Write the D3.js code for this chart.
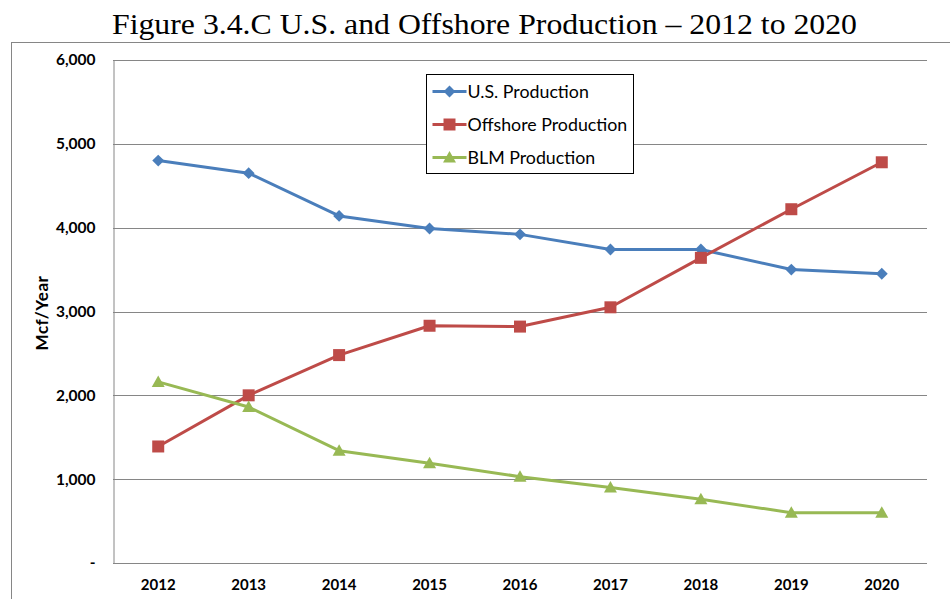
<!DOCTYPE html>
<html>
<head>
<meta charset="utf-8">
<script src="https://cdn.jsdelivr.net/npm/d3@7"></script>
<style>
  html, body { margin: 0; padding: 0; background: #fff; }
  svg { display: block; }
</style>
</head>
<body>
<svg id="chart" width="950" height="599"></svg>
<script>
// Production by year, Mcf/Year
const years = ["2012", "2013", "2014", "2015", "2016", "2017", "2018", "2019", "2020"];
const usProduction = [4800, 4650, 4140, 3990, 3920, 3740, 3740, 3500, 3450];
const offshoreProduction = [1390, 2000, 2480, 2830, 2820, 3050, 3640, 4220, 4780];
const blmProduction = [2160, 1860, 1340, 1190, 1030, 900, 760, 600, 600];
const yTicks = [0, 1000, 2000, 3000, 4000, 5000, 6000];
const seriesNames = ["U.S. Production", "Offshore Production", "BLM Production"];

const series = [
  { name: seriesNames[0], values: usProduction, color: "#4A7EBB", marker: "diamond" },
  { name: seriesNames[1], values: offshoreProduction, color: "#BE4B48", marker: "square" },
  { name: seriesNames[2], values: blmProduction, color: "#98B954", marker: "triangle" }
];

const svg = d3.select("#chart");
const plot = { left: 113, right: 927, top: 60, bottom: 563 };
const sans = "Lato, 'Open Sans', sans-serif";

// Title
svg.append("text")
  .attr("x", 112).attr("y", 34)
  .attr("textLength", 745)
  .attr("lengthAdjust", "spacingAndGlyphs")
  .attr("font-family", "'Liberation Serif', 'Times New Roman', serif")
  .attr("font-size", 29)
  .attr("fill", "#000")
  .text("Figure 3.4.C U.S. and Offshore Production \u2013 2012 to 2020");

// Outer chart frame
svg.append("rect")
  .attr("x", 11.5).attr("y", 42.5)
  .attr("width", 960).attr("height", 600)
  .attr("fill", "none").attr("stroke", "#868686").attr("stroke-width", 1);

const x = d3.scaleBand().domain(years).range([plot.left, plot.right]);
const y = d3.scaleLinear().domain([0, 6000]).range([plot.bottom, plot.top]);

// Horizontal gridlines
svg.append("g")
  .selectAll("line")
  .data(yTicks)
  .join("line")
  .attr("x1", plot.left).attr("x2", plot.right)
  .attr("y1", d => Math.round(y(d)) + 0.5).attr("y2", d => Math.round(y(d)) + 0.5)
  .attr("stroke", "#868686").attr("stroke-width", 1);

// Y axis
const yAxis = svg.append("g")
  .attr("transform", `translate(${plot.left + 0.5},0)`)
  .call(d3.axisLeft(y).tickValues(yTicks).tickSize(0).tickPadding(18)
    .tickFormat(d => d === 0 ? "-" : d3.format(",")(d)));
yAxis.select(".domain").attr("stroke", "#868686");
yAxis.selectAll("text")
  .attr("font-family", sans)
  .attr("font-weight", "bold")
  .attr("font-size", 15.5)
  .attr("fill", "#000");

// X axis
const xAxis = svg.append("g")
  .attr("transform", `translate(0,${Math.round(plot.bottom) + 0.5})`)
  .call(d3.axisBottom(x).tickSize(0).tickPadding(16));
xAxis.select(".domain").remove();
xAxis.selectAll("text")
  .attr("font-family", sans)
  .attr("font-weight", "bold")
  .attr("font-size", 15)
  .attr("fill", "#000");

// Y axis title
svg.append("text")
  .attr("transform", `translate(48,313) rotate(-90)`)
  .attr("text-anchor", "middle")
  .attr("font-family", sans)
  .attr("font-weight", "bold")
  .attr("font-size", 17)
  .attr("letter-spacing", 0.5)
  .attr("fill", "#000")
  .text("Mcf/Year");

const cx = d => x(d) + x.bandwidth() / 2;

function markerPath(type) {
  if (type === "diamond") return d3.symbol().type(d3.symbolDiamond2).size(90)();
  if (type === "square") return "M-6,-6H6V6H-6Z";
  return "M0,-6.5L6.5,5L-6.5,5Z";
}

const line = d3.line().x(d => cx(d.year)).y(d => y(d.value));

series.forEach(s => {
  const pts = years.map((yr, i) => ({ year: yr, value: s.values[i] }));
  const g = svg.append("g");
  g.append("path")
    .datum(pts)
    .attr("d", line)
    .attr("fill", "none")
    .attr("stroke", s.color)
    .attr("stroke-width", 3)
    .attr("stroke-linejoin", "round");
  g.selectAll("path.marker")
    .data(pts)
    .join("path")
    .attr("class", "marker")
    .attr("transform", d => `translate(${cx(d.year)},${y(d.value)})`)
    .attr("d", markerPath(s.marker))
    .attr("fill", s.color);
});

// Legend
const legend = svg.append("g").attr("transform", "translate(426.5,74.5)");
legend.append("rect")
  .attr("width", 207).attr("height", 99)
  .attr("fill", "#fff").attr("stroke", "#000").attr("stroke-width", 1);
series.forEach((s, i) => {
  const ly = 17 + i * 33;
  const row = legend.append("g").attr("transform", `translate(0,${ly})`);
  row.append("line").attr("x1", 6).attr("x2", 40).attr("y1", 0).attr("y2", 0)
    .attr("stroke", s.color).attr("stroke-width", 3);
  row.append("path").attr("transform", "translate(23,0)").attr("d", markerPath(s.marker)).attr("fill", s.color);
  row.append("text").attr("x", 41).attr("y", 0).attr("dy", "0.35em")
    .attr("font-family", sans)
    .attr("font-size", 17.8)
    .attr("fill", "#000")
    .text(s.name);
});
</script>
</body>
</html>
